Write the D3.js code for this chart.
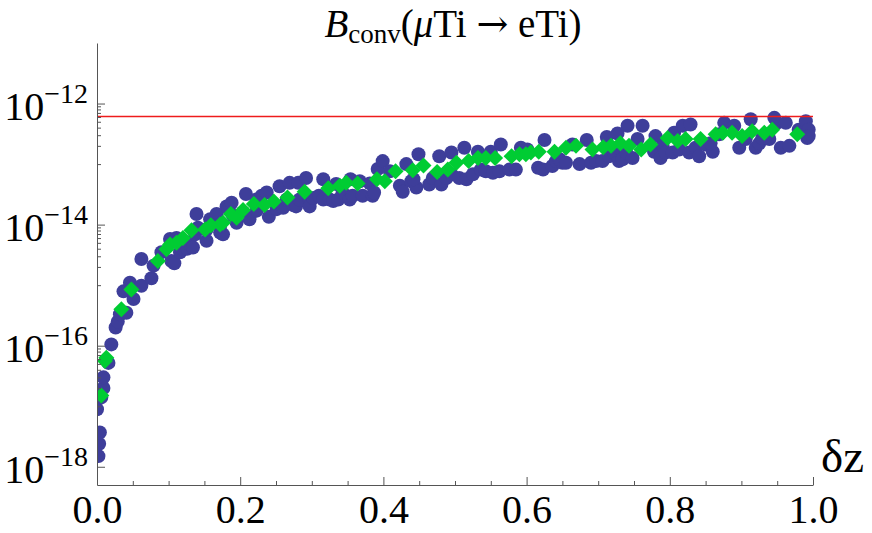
<!DOCTYPE html>
<html>
<head>
<meta charset="utf-8">
<script src="https://cdn.jsdelivr.net/npm/d3@7"></script>
<style>
  html, body { margin: 0; padding: 0; background: #fff; }
  svg { display: block; }
</style>
</head>
<body>
<svg id="chart" width="872" height="533"></svg>
<script>
// ---------------- data ----------------
const xBlue = [0.000,0.002,0.003,0.004,0.006,0.009,0.009,0.016,0.020,0.026,
  0.029,0.032,0.037,0.041,0.046,0.051,0.062,0.062,0.076,0.079,
  0.090,0.102,0.104,0.108,0.111,0.116,0.120,0.126,0.130,0.134,
  0.137,0.139,0.141,0.153,0.153,0.158,0.167,0.172,0.176,0.172,
  0.181,0.184,0.188,0.190,0.195,0.204,0.208,0.213,0.223,0.223,
  0.230,0.237,0.240,0.251,0.255,0.260,0.265,0.269,0.274,0.278,
  0.281,0.283,0.292,0.297,0.297,0.302,0.310,0.316,0.316,0.325,
  0.330,0.334,0.337,0.343,0.353,0.354,0.357,0.367,0.371,0.381,
  0.385,0.387,0.392,0.399,0.409,0.423,0.427,0.432,0.439,0.446,
  0.442,0.449,0.464,0.469,0.478,0.481,0.488,0.495,0.495,0.506,
  0.513,0.516,0.525,0.532,0.536,0.543,0.550,0.553,0.562,0.564,
  0.576,0.585,0.592,0.601,0.616,0.623,0.625,0.636,0.641,0.650,
  0.646,0.655,0.664,0.674,0.684,0.690,0.697,0.706,0.712,0.715,
  0.722,0.727,0.729,0.734,0.739,0.741,0.748,0.755,0.762,0.778,
  0.780,0.787,0.790,0.794,0.804,0.806,0.813,0.818,0.827,0.829,
  0.836,0.841,0.850,0.860,0.857,0.869,0.876,0.890,0.897,0.906,
  0.913,0.920,0.925,0.929,0.939,0.946,0.950,0.955,0.962,0.967,
  0.980,0.990,0.992,0.994,0.994];
const yBlue = [8.9e-18,1.5e-18,2.4e-18,3.7e-18,1.4e-17,2.0e-17,3.0e-17,5.2e-17,1.05e-16,2.0e-16,
  2.5e-16,3.3e-16,7.9e-16,3.5e-16,1.1e-15,5.9e-16,9.8e-16,2.7e-15,1.3e-15,2.1e-15,
  3.5e-15,5.8e-15,2.5e-15,2.3e-15,6.0e-15,3.5e-15,3.9e-15,4.0e-15,4.7e-15,4.2e-15,
  6.9e-15,1.5e-14,8.9e-15,5.4e-15,8.3e-15,1.23e-14,1.5e-14,7.4e-15,6.9e-15,9.5e-15,
  2.0e-14,1.8e-14,2.3e-14,1.4e-14,1.07e-14,1.6e-14,3.2e-14,1.23e-14,1.7e-14,2.6e-14,
  3.0e-14,3.4e-14,1.35e-14,1.8e-14,4.3e-14,1.9e-14,2.6e-14,4.9e-14,2.1e-14,2.0e-14,
  4.9e-14,2.6e-14,5.9e-14,2.6e-14,2.0e-14,2.75e-14,3.0e-14,5.6e-14,2.6e-14,2.6e-14,
  2.45e-14,4.7e-14,2.6e-14,3.4e-14,2.6e-14,5.6e-14,3.0e-14,5.2e-14,3.0e-14,4.8e-14,
  3.0e-14,3.4e-14,8.3e-14,1.12e-13,7.6e-14,4.4e-14,3.5e-14,1.0e-13,5.2e-14,4.1e-14,
  5.6e-14,1.45e-13,4.6e-14,5.9e-14,1.35e-13,4.6e-14,5.9e-14,1.55e-13,6.8e-14,5.9e-14,
  1.86e-13,5.6e-14,6.8e-14,1.6e-13,8.1e-14,7.6e-14,1.6e-13,7.2e-14,7.6e-14,2.1e-13,
  8.1e-14,8.1e-14,1.86e-13,1.74e-13,8.7e-14,8.1e-14,2.5e-13,9.3e-14,1.12e-13,1.05e-13,
  1.2e-13,1.05e-13,2.1e-13,1.0e-13,2.5e-13,1.05e-13,1.12e-13,1.12e-13,2.8e-13,1.35e-13,
  1.55e-13,3.2e-13,1.12e-13,1.2e-13,1.55e-13,4.3e-13,1.26e-13,2.6e-13,4.3e-13,1.6e-13,
  2.9e-13,1.26e-13,2.0e-13,1.55e-13,1.55e-13,3.3e-13,1.74e-13,4.3e-13,1.55e-13,4.5e-13,
  1.86e-13,1.35e-13,2.1e-13,1.6e-13,2.2e-13,3.1e-13,4.8e-13,4.3e-13,1.86e-13,2.6e-13,
  5.5e-13,1.86e-13,2.2e-13,2.7e-13,2.6e-13,5.8e-13,4.8e-13,1.86e-13,4.8e-13,2.0e-13,
  3.7e-13,5.1e-13,2.7e-13,3.7e-13,2.9e-13];

const xGreen = [0.006,0.011,0.013,0.034,0.048,0.085,0.097,0.102,0.111,0.120,
  0.132,0.151,0.159,0.172,0.176,0.187,0.195,0.204,0.219,0.234,
  0.247,0.266,0.290,0.323,0.339,0.348,0.364,0.391,0.402,0.417,
  0.441,0.456,0.475,0.490,0.502,0.519,0.532,0.543,0.556,0.579,
  0.590,0.599,0.606,0.617,0.639,0.655,0.669,0.692,0.707,0.718,
  0.731,0.743,0.760,0.773,0.797,0.811,0.822,0.843,0.864,0.874,
  0.887,0.901,0.915,0.932,0.943,0.978];
const yGreen = [1.5e-17,5.6e-17,6.3e-17,4.0e-16,8.5e-16,2.5e-15,3.9e-15,4.7e-15,5.0e-15,6.0e-15,
  8.1e-15,8.3e-15,9.8e-15,1.0e-14,1.07e-14,1.5e-14,1.3e-14,1.74e-14,2.2e-14,2.1e-14,
  2.4e-14,2.8e-14,3.5e-14,4.0e-14,4.4e-14,4.9e-14,4.8e-14,5.6e-14,5.2e-14,7.6e-14,
  7.9e-14,9.5e-14,7.4e-14,8.1e-14,1.05e-13,1.12e-13,1.26e-13,1.26e-13,1.26e-13,1.35e-13,
  1.45e-13,1.45e-13,1.55e-13,1.6e-13,1.6e-13,1.86e-13,2.0e-13,1.74e-13,1.9e-13,2.0e-13,
  2.2e-13,2.0e-13,1.74e-13,2.1e-13,2.7e-13,2.4e-13,2.6e-13,2.6e-13,3.1e-13,3.3e-13,
  3.3e-13,2.9e-13,3.5e-13,3.3e-13,3.7e-13,3.1e-13];

const experimentalLimit = 6.1e-13;

const xTickValues = [0, 0.2, 0.4, 0.6, 0.8, 1.0];
const xMinorTickValues = [0.05,0.1,0.15,0.25,0.3,0.35,0.45,0.5,0.55,0.65,0.7,0.75,0.85,0.9,0.95];
const yTickExponents = [-12, -14, -16, -18];
const yMinorDecades = [-13, -15, -17];
const xDomain = [0, 1];
const yDomain = [5e-19, 1e-11];

// ---------------- layout ----------------
const svg = d3.select("#chart");
const mLeft = 97, mRight = 813, mTop = 43, mBottom = 485;
const x = d3.scaleLinear().domain(xDomain).range([mLeft, mRight]);
const y = d3.scaleLog().domain(yDomain).range([mBottom, mTop]);

const axisColor = "#555";
const serif = "'Liberation Serif', 'Times New Roman', serif";

// clip
svg.append("defs").append("clipPath").attr("id", "clip")
  .append("rect").attr("x", mLeft).attr("y", 0).attr("width", 872 - mLeft).attr("height", mBottom);

const plot = svg.append("g").attr("clip-path", "url(#clip)");

// blue points
plot.append("g").selectAll("circle")
  .data(xBlue.map((d, i) => [d, yBlue[i]]))
  .join("circle")
  .attr("cx", d => x(d[0]))
  .attr("cy", d => y(d[1]))
  .attr("r", 7)
  .attr("fill", "#3e3e9a");

// green diamonds
const dr = 8;
plot.append("g").selectAll("path")
  .data(xGreen.map((d, i) => [d, yGreen[i]]))
  .join("path")
  .attr("d", d => {
    const cx = x(d[0]), cy = y(d[1]);
    return `M${cx},${cy - dr}L${cx + dr},${cy}L${cx},${cy + dr}L${cx - dr},${cy}Z`;
  })
  .attr("fill", "#00cc33");

// red limit line
svg.append("line")
  .attr("x1", x(0)).attr("x2", x(1))
  .attr("y1", y(experimentalLimit)).attr("y2", y(experimentalLimit))
  .attr("stroke", "#ee1c1c").attr("stroke-width", 1.5);

// x axis
const xAxisG = svg.append("g").attr("transform", `translate(0,${mBottom})`);
xAxisG.call(d3.axisBottom(x).tickValues(xTickValues).tickSize(-8).tickSizeOuter(0)
  .tickPadding(9.5).tickFormat(d3.format(".1f")));
const xMinorG = svg.append("g").attr("transform", `translate(0,${mBottom})`);
xMinorG.call(d3.axisBottom(x).tickValues(xMinorTickValues).tickSize(-4).tickSizeOuter(0).tickFormat(""));
xMinorG.select(".domain").remove();
[xAxisG, xMinorG].forEach(g => {
  g.selectAll("line").attr("stroke", axisColor);
  g.selectAll(".domain").attr("stroke", axisColor);
});
xAxisG.selectAll("text").attr("font-family", serif).attr("font-size", 40).attr("fill", "#000");

// y axis
const yMinor = [];
yMinorDecades.forEach(e => { for (let k = 1; k <= 9; k++) yMinor.push(k * Math.pow(10, e)); });
const yMajor = yTickExponents.map(e => Math.pow(10, e));

const yAxisG = svg.append("g").attr("transform", `translate(${mLeft},0)`);
yAxisG.call(d3.axisLeft(y).tickValues(yMajor).tickSize(-8).tickSizeOuter(0).tickFormat(""));
const yMinorG = svg.append("g").attr("transform", `translate(${mLeft},0)`);
yMinorG.call(d3.axisLeft(y).tickValues(yMinor).tickSize(-4).tickSizeOuter(0).tickFormat(""));
yMinorG.select(".domain").remove();
[yAxisG, yMinorG].forEach(g => {
  g.selectAll("line").attr("stroke", axisColor);
  g.selectAll(".domain").attr("stroke", axisColor);
});

// y tick labels 10^n
const yLabels = svg.append("g").attr("font-family", serif).attr("fill", "#000");
yTickExponents.forEach(e => {
  const t = yLabels.append("text")
    .attr("x", 88).attr("y", y(Math.pow(10, e)) + 16)
    .attr("text-anchor", "end");
  t.append("tspan").attr("font-size", 40).text("10");
  t.append("tspan").attr("font-size", 28).attr("dy", -17).text("\u2212" + Math.abs(e));
});

// x-axis label
svg.append("text")
  .attr("x", 821).attr("y", 472)
  .attr("font-family", serif).attr("font-size", 47)
  .text("\u03B4z");

// title
const title = svg.append("text")
  .attr("x", 453).attr("y", 37)
  .attr("text-anchor", "middle")
  .attr("font-family", serif).attr("font-size", 39);
title.append("tspan").attr("font-style", "italic").text("B");
title.append("tspan").attr("font-size", 27).attr("dy", 6).text("conv");
title.append("tspan").attr("dy", -6).text("(");
title.append("tspan").attr("font-style", "italic").text("\u03BC");
title.append("tspan").text("Ti ");
title.append("tspan").attr("font-family", "'DejaVu Serif', serif").attr("font-size", 38).text("\u2192");
title.append("tspan").text(" eTi)");
</script>
</body>
</html>
